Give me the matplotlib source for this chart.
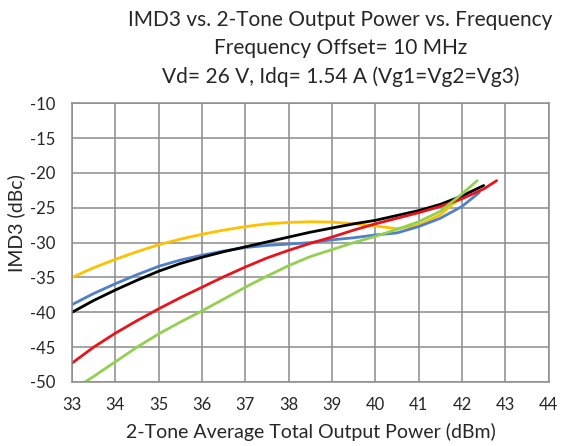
import numpy as np
import matplotlib.pyplot as plt

plt.rcParams['font.family'] = ['Lato', 'DejaVu Sans']
plt.rcParams['axes.unicode_minus'] = False

# IMD3 (dBc) vs. output power (dBm), one trace per frequency
x_yellow = [33, 33.5, 34, 34.5, 35, 35.5, 36, 36.5, 37, 37.5, 38, 38.5, 39, 39.5, 40, 40.5, 41, 41.5, 41.8, 42.2]
y_yellow = [-35.0, -33.6, -32.4, -31.3, -30.3, -29.5, -28.8, -28.2, -27.7, -27.3, -27.1, -27.0, -27.05, -27.3, -27.6, -28.0, -27.5, -26.0, -24.4, -22.6]

x_blue = [33, 33.5, 34, 34.5, 35, 35.5, 36, 36.5, 37, 37.5, 38, 38.5, 39, 39.5, 40, 40.5, 41, 41.5, 42, 42.4]
y_blue = [-38.9, -37.3, -35.9, -34.6, -33.4, -32.5, -31.8, -31.2, -30.7, -30.4, -30.2, -30.0, -29.6, -29.3, -28.9, -28.6, -27.7, -26.5, -24.8, -22.8]

x_black = [33, 33.5, 34, 34.5, 35, 35.5, 36, 36.5, 37, 37.5, 38, 38.5, 39, 39.5, 40, 40.5, 41, 41.5, 42, 42.5]
y_black = [-40.0, -38.3, -36.8, -35.4, -34.1, -33.0, -32.1, -31.3, -30.6, -29.9, -29.2, -28.5, -27.9, -27.3, -26.8, -26.1, -25.4, -24.5, -23.3, -21.8]

x_red = [33, 33.5, 34, 34.5, 35, 35.5, 36, 36.5, 37, 37.5, 38, 38.5, 39, 39.5, 40, 40.5, 41, 41.5, 42, 42.5, 42.8]
y_red = [-47.3, -45.0, -43.0, -41.2, -39.5, -37.9, -36.4, -34.9, -33.5, -32.2, -31.1, -30.1, -29.2, -28.2, -27.3, -26.5, -25.7, -24.8, -23.7, -22.3, -21.1]

x_green = [33.3, 33.5, 34, 34.5, 35, 35.5, 36, 36.5, 37, 37.5, 38, 38.5, 39, 39.5, 40, 40.5, 41, 41.5, 42, 42.35]
y_green = [-50.0, -49.2, -47.1, -45.0, -43.1, -41.4, -39.8, -38.1, -36.4, -34.8, -33.3, -32.0, -31.0, -30.0, -29.1, -28.1, -27.0, -25.5, -23.0, -21.1]

x_ticks = np.arange(33, 45, 1)
y_ticks = np.arange(-50, -5, 5)

fig = plt.figure(figsize=(5.69, 4.46), dpi=100)
ax = fig.add_axes([0.1265, 0.1435, 0.8378, 0.6249])

lw = 2.0
ax.plot(x_yellow, y_yellow, color='#FFC000', lw=lw, solid_capstyle='round')
ax.plot(x_blue, y_blue, color='#4F7FC8', lw=lw, solid_capstyle='round')
ax.plot(x_black, y_black, color='#000000', lw=lw, solid_capstyle='round')
ax.plot(x_red, y_red, color='#E8141B', lw=lw, solid_capstyle='round')
ax.plot(x_green, y_green, color='#92D050', lw=lw, solid_capstyle='round')

ax.set_xlim(33, 44)
ax.set_ylim(-50, -10)
ax.set_xticks(x_ticks)
ax.set_yticks(y_ticks)
ax.grid(True, color='#8C8C8C', lw=1.1)
ax.set_axisbelow(True)
for s in ax.spines.values():
    s.set_color('#8C8C8C')
    s.set_linewidth(1.1)
ax.tick_params(length=0, labelsize=12, colors='#262626')
ax.tick_params(axis='x', pad=11)
ax.tick_params(axis='y', pad=12)

fig.text(0.028, 0.5, 'IMD3 (dBc)', rotation=90, ha='center', va='center',
         fontsize=14, color='#262626')
fig.text(0.546, 0.031, '2-Tone Average Total Output Power (dBm)', ha='center',
         va='center', fontsize=14, color='#262626')

title = ['IMD3 vs. 2-Tone Output Power vs. Frequency',
         'Frequency Offset= 10 MHz',
         'Vd= 26 V, Idq= 1.54 A (Vg1=Vg2=Vg3)']
for i, line in enumerate(title):
    fig.text(0.598, 0.955 - i * 0.063, line, ha='center', va='center',
             fontsize=15, color='#262626')

fig.savefig('out.png', dpi=100)
